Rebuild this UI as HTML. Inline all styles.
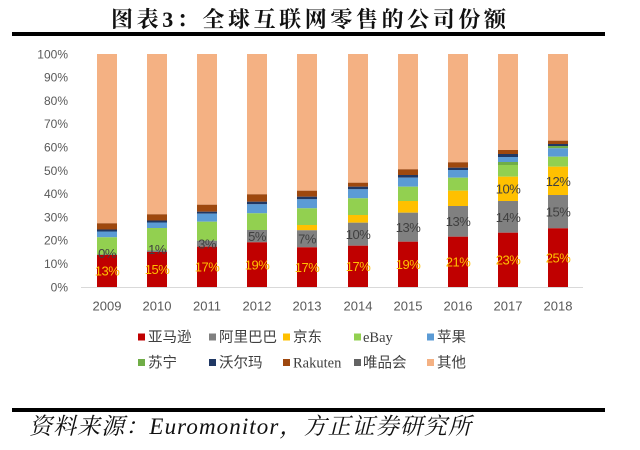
<!DOCTYPE html>
<html>
<head>
<meta charset="utf-8">
<style>
  html,body{margin:0;padding:0;background:#fff;}
  svg{display:block;}
  .yl{font-family:"Liberation Sans",sans-serif;font-size:12px;fill:#595959;}
  .xl{font-family:"Liberation Sans",sans-serif;font-size:13px;fill:#595959;}
  .dl{font-family:"Liberation Sans",sans-serif;font-size:13px;letter-spacing:-0.5px;}
  .lg{font-family:"Liberation Sans","Noto Sans CJK SC",sans-serif;font-size:14.5px;fill:#404040;}
  .lgs{font-family:"Liberation Serif",serif;font-size:14.5px;fill:#404040;}
</style>
</head>
<body>
<svg width="640" height="450" viewBox="0 0 640 450" xmlns="http://www.w3.org/2000/svg">
  <rect x="0" y="0" width="640" height="450" fill="#fff"/>

  <!-- Title -->
  <text x="111" y="27" textLength="395" lengthAdjust="spacing" font-family="'Liberation Serif','Noto Serif CJK SC',serif" font-size="22" font-weight="700" fill="#111">图表3：全球互联网零售的公司份额</text>
  <rect x="12" y="32" width="593" height="4" fill="#000"/>

  <!-- Y labels -->
  <g class="yl" text-anchor="end">
    <text x="68" y="58.3">100%</text>
    <text x="68" y="81.6">90%</text>
    <text x="68" y="104.9">80%</text>
    <text x="68" y="128.2">70%</text>
    <text x="68" y="151.5">60%</text>
    <text x="68" y="174.8">50%</text>
    <text x="68" y="198.1">40%</text>
    <text x="68" y="221.4">30%</text>
    <text x="68" y="244.7">20%</text>
    <text x="68" y="268">10%</text>
    <text x="68" y="291.3">0%</text>
  </g>

  <!-- Bars -->
  <g>
    <rect x="97" y="54" width="20" height="169.3" fill="#F4B183"/>
    <rect x="97" y="223.3" width="20" height="6.2" fill="#9E480E"/>
    <rect x="97" y="229.5" width="20" height="2" fill="#203864"/>
    <rect x="97" y="231.5" width="20" height="5.8" fill="#5B9BD5"/>
    <rect x="97" y="237.3" width="20" height="17.2" fill="#92D050"/>
    <rect x="97" y="254.5" width="20" height="0.5" fill="#808080"/>
    <rect x="97" y="255" width="20" height="32" fill="#C00000"/>
  </g>
  <g>
    <rect x="147" y="54" width="20" height="160.3" fill="#F4B183"/>
    <rect x="147" y="214.3" width="20" height="6.2" fill="#9E480E"/>
    <rect x="147" y="220.5" width="20" height="2" fill="#203864"/>
    <rect x="147" y="222.5" width="20" height="5.5" fill="#5B9BD5"/>
    <rect x="147" y="228" width="20" height="22.5" fill="#92D050"/>
    <rect x="147" y="250.5" width="20" height="1.5" fill="#808080"/>
    <rect x="147" y="252" width="20" height="35" fill="#C00000"/>
  </g>
  <g>
    <rect x="197" y="54" width="20" height="150.7" fill="#F4B183"/>
    <rect x="197" y="204.7" width="20" height="7" fill="#9E480E"/>
    <rect x="197" y="211.7" width="20" height="2" fill="#203864"/>
    <rect x="197" y="213.7" width="20" height="8" fill="#5B9BD5"/>
    <rect x="197" y="221.7" width="20" height="19" fill="#92D050"/>
    <rect x="197" y="240.7" width="20" height="6" fill="#808080"/>
    <rect x="197" y="246.7" width="20" height="40.3" fill="#C00000"/>
  </g>
  <g>
    <rect x="247" y="54" width="20" height="140.3" fill="#F4B183"/>
    <rect x="247" y="194.3" width="20" height="7.4" fill="#9E480E"/>
    <rect x="247" y="201.7" width="20" height="2.6" fill="#203864"/>
    <rect x="247" y="204.3" width="20" height="9" fill="#5B9BD5"/>
    <rect x="247" y="213.3" width="20" height="16.7" fill="#92D050"/>
    <rect x="247" y="230" width="20" height="12.3" fill="#808080"/>
    <rect x="247" y="242.3" width="20" height="44.7" fill="#C00000"/>
  </g>
  <g>
    <rect x="297" y="54" width="20" height="136.7" fill="#F4B183"/>
    <rect x="297" y="190.7" width="20" height="6" fill="#9E480E"/>
    <rect x="297" y="196.7" width="20" height="2.6" fill="#203864"/>
    <rect x="297" y="199.3" width="20" height="9" fill="#5B9BD5"/>
    <rect x="297" y="208.3" width="20" height="16.7" fill="#92D050"/>
    <rect x="297" y="225" width="20" height="5.3" fill="#FFC000"/>
    <rect x="297" y="230.3" width="20" height="17" fill="#808080"/>
    <rect x="297" y="247.3" width="20" height="39.7" fill="#C00000"/>
  </g>
  <g>
    <rect x="348" y="54" width="20" height="128.7" fill="#F4B183"/>
    <rect x="348" y="182.7" width="20" height="4" fill="#9E480E"/>
    <rect x="348" y="186.7" width="20" height="2.6" fill="#203864"/>
    <rect x="348" y="189.3" width="20" height="9" fill="#5B9BD5"/>
    <rect x="348" y="198.3" width="20" height="16.7" fill="#92D050"/>
    <rect x="348" y="215" width="20" height="7.7" fill="#FFC000"/>
    <rect x="348" y="222.7" width="20" height="23" fill="#808080"/>
    <rect x="348" y="245.7" width="20" height="41.3" fill="#C00000"/>
  </g>
  <g>
    <rect x="398" y="54" width="20" height="115.3" fill="#F4B183"/>
    <rect x="398" y="169.3" width="20" height="5.7" fill="#9E480E"/>
    <rect x="398" y="175" width="20" height="2.7" fill="#203864"/>
    <rect x="398" y="177.7" width="20" height="9" fill="#5B9BD5"/>
    <rect x="398" y="186.7" width="20" height="14.3" fill="#92D050"/>
    <rect x="398" y="201" width="20" height="11.7" fill="#FFC000"/>
    <rect x="398" y="212.7" width="20" height="29" fill="#808080"/>
    <rect x="398" y="241.7" width="20" height="45.3" fill="#C00000"/>
  </g>
  <g>
    <rect x="448" y="54" width="20" height="108.3" fill="#F4B183"/>
    <rect x="448" y="162.3" width="20" height="5.4" fill="#9E480E"/>
    <rect x="448" y="167.7" width="20" height="2.3" fill="#203864"/>
    <rect x="448" y="170" width="20" height="7.7" fill="#5B9BD5"/>
    <rect x="448" y="177.7" width="20" height="13" fill="#92D050"/>
    <rect x="448" y="190.7" width="20" height="15.3" fill="#FFC000"/>
    <rect x="448" y="206" width="20" height="30.7" fill="#808080"/>
    <rect x="448" y="236.7" width="20" height="50.3" fill="#C00000"/>
  </g>
  <g>
    <rect x="498" y="54" width="20" height="96" fill="#F4B183"/>
    <rect x="498" y="150" width="20" height="4" fill="#9E480E"/>
    <rect x="498" y="154" width="20" height="3" fill="#203864"/>
    <rect x="498" y="157" width="20" height="5" fill="#5B9BD5"/>
    <rect x="498" y="162" width="20" height="3" fill="#70AD47"/>
    <rect x="498" y="165" width="20" height="11.7" fill="#92D050"/>
    <rect x="498" y="176.7" width="20" height="24.3" fill="#FFC000"/>
    <rect x="498" y="201" width="20" height="31.7" fill="#808080"/>
    <rect x="498" y="232.7" width="20" height="54.3" fill="#C00000"/>
  </g>
  <g>
    <rect x="548" y="54" width="20" height="86.7" fill="#F4B183"/>
    <rect x="548" y="140.7" width="20" height="3.3" fill="#9E480E"/>
    <rect x="548" y="144" width="20" height="2" fill="#203864"/>
    <rect x="548" y="146" width="20" height="2.3" fill="#70AD47"/>
    <rect x="548" y="148.3" width="20" height="8.4" fill="#5B9BD5"/>
    <rect x="548" y="156.7" width="20" height="10" fill="#92D050"/>
    <rect x="548" y="166.7" width="20" height="28.3" fill="#FFC000"/>
    <rect x="548" y="195" width="20" height="33.3" fill="#808080"/>
    <rect x="548" y="228.3" width="20" height="58.7" fill="#C00000"/>
  </g>

  <!-- Axis -->
  <rect x="81" y="287" width="502" height="1" fill="#D9D9D9"/>

  <!-- Amazon labels -->
  <g class="dl" fill="#FFC000" text-anchor="middle">
    <text x="107" y="275.5">13%</text>
    <text x="157" y="274">15%</text>
    <text x="207" y="271.5">17%</text>
    <text x="257" y="269.5">19%</text>
    <text x="307" y="272">17%</text>
    <text x="358" y="271">17%</text>
    <text x="408" y="269">19%</text>
    <text x="458" y="266.5">21%</text>
    <text x="508" y="264.5">23%</text>
    <text x="558" y="262.5">25%</text>
  </g>
  <!-- Alibaba labels -->
  <g class="dl" fill="#404040" text-anchor="middle">
    <text x="107" y="258">0%</text>
    <text x="157" y="254">1%</text>
    <text x="207" y="248.5">3%</text>
    <text x="257" y="241">5%</text>
    <text x="307" y="243.5">7%</text>
    <text x="358" y="239">10%</text>
    <text x="408" y="232">13%</text>
    <text x="458" y="226">13%</text>
    <text x="508" y="222">14%</text>
    <text x="558" y="216.5">15%</text>
  </g>
  <!-- JD labels -->
  <g class="dl" fill="#404040" text-anchor="middle">
    <text x="508" y="193.5">10%</text>
    <text x="558" y="186">12%</text>
  </g>

  <!-- X labels -->
  <g class="xl" text-anchor="middle">
    <text x="107" y="310.7">2009</text>
    <text x="157" y="310.7">2010</text>
    <text x="207" y="310.7">2011</text>
    <text x="257" y="310.7">2012</text>
    <text x="307" y="310.7">2013</text>
    <text x="358" y="310.7">2014</text>
    <text x="408" y="310.7">2015</text>
    <text x="458" y="310.7">2016</text>
    <text x="508" y="310.7">2017</text>
    <text x="558" y="310.7">2018</text>
  </g>

  <!-- Legend -->
  <g>
    <rect x="138" y="333.5" width="7" height="7" fill="#C00000"/>
    <text class="lg" x="148" y="342">亚马逊</text>
    <rect x="209" y="333.5" width="7" height="7" fill="#808080"/>
    <text class="lg" x="219" y="342">阿里巴巴</text>
    <rect x="283" y="333.5" width="7" height="7" fill="#FFC000"/>
    <text class="lg" x="293" y="342">京东</text>
    <rect x="354" y="333.5" width="7" height="7" fill="#92D050"/>
    <text class="lgs" x="363" y="342">eBay</text>
    <rect x="427" y="333.5" width="7" height="7" fill="#5B9BD5"/>
    <text class="lg" x="437" y="342">苹果</text>

    <rect x="138" y="359" width="7" height="7" fill="#70AD47"/>
    <text class="lg" x="148" y="367.5">苏宁</text>
    <rect x="209" y="359" width="7" height="7" fill="#203864"/>
    <text class="lg" x="219" y="367.5">沃尔玛</text>
    <rect x="283" y="359" width="7" height="7" fill="#9E480E"/>
    <text class="lgs" x="293" y="367.5">Rakuten</text>
    <rect x="354" y="359" width="7" height="7" fill="#636363"/>
    <text class="lg" x="363" y="367.5">唯品会</text>
    <rect x="427" y="359" width="7" height="7" fill="#F4B183"/>
    <text class="lg" x="437" y="367.5">其他</text>
  </g>

  <!-- Footer -->
  <rect x="12" y="408" width="593" height="4" fill="#000"/>
  <text x="29" y="434" textLength="442" lengthAdjust="spacing" font-family="'Liberation Serif','Noto Serif CJK SC',serif" font-size="23" font-style="italic" fill="#111">资料来源：Euromonitor，方正证券研究所</text>
</svg>
</body>
</html>
